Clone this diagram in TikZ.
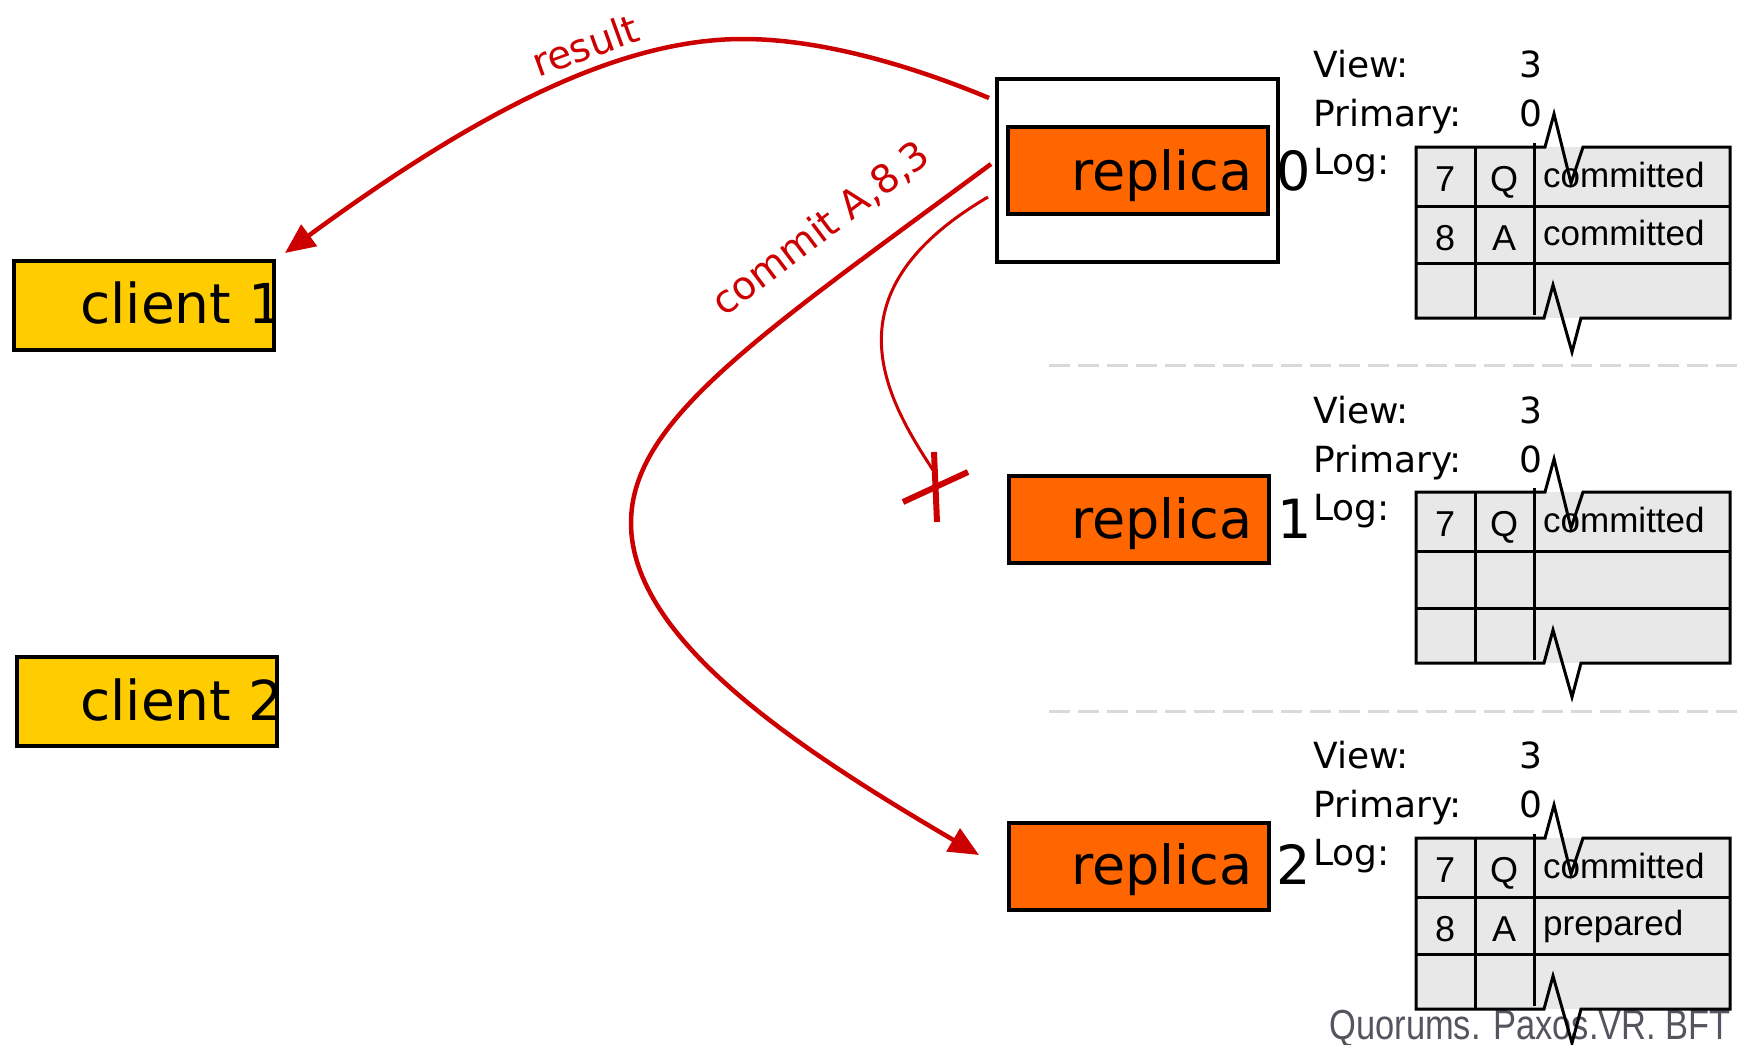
\documentclass[tikz,border=0pt]{standalone}
\usepackage{fontspec}
\setmainfont{DejaVu Sans}
\newfontfamily\tabfont{Liberation Sans}
\newfontfamily\footfont[FakeStretch=0.82]{Liberation Sans}
\usetikzlibrary{arrows.meta}
\definecolor{msgred}{HTML}{CC0000}
\definecolor{repor}{HTML}{FF6600}
\definecolor{cliy}{HTML}{FFCC00}
\definecolor{tabgray}{HTML}{E8E8E8}
\definecolor{sepgray}{HTML}{D9D9D9}
\definecolor{footgray}{HTML}{55555F}
\newcommand{\logtab}[1]{%
  \fill[tabgray] (1416,#1) rectangle (1730,#1+171);
  \draw[tabline] (1416,#1+59) -- (1730,#1+59);
  \draw[tabline] (1416,#1+116) -- (1730,#1+116);
  \draw[tabline] (1475,#1) -- (1475,#1+171);
  \draw[tabline] (1534,#1-4) -- (1534,#1+168);
}
\newcommand{\logframe}[1]{%
  \draw[tabline] (1545,#1) -- (1416,#1) -- (1416,#1+171) -- (1544,#1+171) -- (1553,#1+138) -- (1572,#1+205) -- (1581,#1+171) -- (1730,#1+171) -- (1730,#1) -- (1583,#1) -- (1571,#1+36) -- (1554,#1-33) -- cycle;
}
\begin{document}
\begin{tikzpicture}[x=1pt,y=-1pt,
  bigtxt/.style={font=\fontsize{54}{60}\selectfont, inner sep=0pt, anchor=base west},
  clitxt/.style={font=\fontsize{55}{60}\selectfont, inner sep=0pt, anchor=base west},
  lbl/.style={font=\fontsize{36}{40}\selectfont, inner sep=0pt, anchor=base west},
  tabtxt/.style={font=\tabfont\fontsize{36}{40}\selectfont, inner sep=0pt, anchor=base},
  tabtxtl/.style={font=\tabfont\fontsize{35}{40}\selectfont, inner sep=0pt, anchor=base west},
  tabline/.style={draw=black, line width=3pt},
  repbox/.style={draw=black, fill=repor, line width=4pt, minimum width=260pt, minimum height=87pt, inner sep=0pt},
  clibox/.style={draw=black, fill=cliy, line width=4pt, minimum width=260pt, minimum height=89pt, inner sep=0pt},
  msg/.style={draw=msgred, line width=4.5pt, -{Triangle[length=30pt,width=26pt]}},
  msgthin/.style={draw=msgred, line width=3pt},
  xmark/.style={draw=msgred, line width=6pt},
  msglbl/.style={font=\fontsize{39}{44}\selectfont, text=msgred, inner sep=0pt},
  sep/.style={draw=sepgray, line width=3pt, dash pattern=on 21pt off 8pt}
]
\useasboundingbox (0,0) rectangle (1744,1044);

% separators
\draw[sep] (1049,365) -- (1744,365);
\draw[sep] (1049,711) -- (1744,711);

% clients
\node[clibox] (c1) at (144,305) {};
\begin{scope}
  \clip ([shift={(2,-2)}]c1.south west) rectangle ([shift={(-2,2)}]c1.north east);
  \node[clitxt] (c1t) at (80,323) {client 1};
\end{scope}
\node[clibox] (c2) at (147,701) {};
\begin{scope}
  \clip ([shift={(2,-2)}]c2.south west) rectangle ([shift={(-2,2)}]c2.north east);
  \node[clitxt] (c2t) at (80,720) {client 2};
\end{scope}

% replicas
\node[draw=black, line width=3.5pt, minimum width=281pt, minimum height=183pt, inner sep=0pt] (r0o) at (1137.5,170.5) {};
\node[repbox] (r0) at (1138,170.5) {};
\node[bigtxt] (r0t) at (1071,190) {replica};
\node[bigtxt] (r0n) at (1276,190) {0};
\node[repbox] (r1) at (1139,519.5) {};
\node[bigtxt] (r1t) at (1071,538) {replica};
\node[bigtxt] (r1n) at (1277,538) {1};
\node[repbox] (r2) at (1139,866) {};
\node[bigtxt] (r2t) at (1071,884) {replica};
\node[bigtxt] (r2n) at (1276,884) {2};

% footer
\node[font=\footfont\fontsize{42}{48}\selectfont, text=footgray, anchor=base east, inner sep=0pt] (foot) at (1731,1039) {Quorums. Paxos.VR. BFT};

% state of replica 0
\node[lbl] (v0) at (1313,77) {View:};
\node[lbl] (v0v) at (1519,77) {3};
\node[lbl] (p0) at (1313,126) {Primary:};
\node[lbl] (p0v) at (1519,126) {0};
\node[lbl] (l0) at (1313,174) {Log:};
\logtab{147}
\node[tabtxt] (t0a) at (1445,191) {7};
\node[tabtxt] (t0b) at (1504,191) {Q};
\node[tabtxtl] (t0c) at (1543,187) {committed};
\node[tabtxt] (t0d) at (1445,250) {8};
\node[tabtxt] (t0e) at (1504,250) {A};
\node[tabtxtl] (t0f) at (1543,245) {committed};
\logframe{147}

% state of replica 1
\node[lbl] (v1) at (1313,423) {View:};
\node[lbl] (v1v) at (1519,423) {3};
\node[lbl] (p1) at (1313,472) {Primary:};
\node[lbl] (p1v) at (1519,472) {0};
\node[lbl] (l1) at (1313,520) {Log:};
\logtab{492}
\node[tabtxt] (t1a) at (1445,536) {7};
\node[tabtxt] (t1b) at (1504,536) {Q};
\node[tabtxtl] (t1c) at (1543,532) {committed};
\logframe{492}

% state of replica 2
\node[lbl] (v2) at (1313,768) {View:};
\node[lbl] (v2v) at (1519,768) {3};
\node[lbl] (p2) at (1313,817) {Primary:};
\node[lbl] (p2v) at (1519,817) {0};
\node[lbl] (l2) at (1313,865) {Log:};
\logtab{838}
\node[tabtxt] (t2a) at (1445,882) {7};
\node[tabtxt] (t2b) at (1504,882) {Q};
\node[tabtxtl] (t2c) at (1543,878) {committed};
\node[tabtxt] (t2d) at (1445,941) {8};
\node[tabtxt] (t2e) at (1504,941) {A};
\node[tabtxtl] (t2f) at (1543,935) {prepared};
\logframe{838}

% messages
\coordinate (resfrom) at (989,98);
\coordinate (resto) at (285,253);
\coordinate (comfrom) at (991,164);
\coordinate (comto) at (979,855);
\coordinate (lostfrom) at (988,197);
\coordinate (lostto) at (933,470);
\draw[msg] (resfrom) .. controls (910,65) and (820,39) .. (743,39) .. controls (620,39) and (480,110) .. (resto);
\draw[msg] (comfrom) .. controls (760,335) and (631,420) .. (631,523) .. controls (631,640) and (800,750) .. (comto);
\draw[msgthin] (lostfrom) .. controls (830,290) and (880,390) .. (lostto);
\coordinate (xa) at (934,452);
\coordinate (xb) at (937,522);
\coordinate (xc) at (903,502);
\coordinate (xd) at (968,472);
\draw[xmark] (xa) -- (xb);
\draw[xmark] (xc) -- (xd);
\node[msglbl, rotate=20] (reslbl) at (585,45) {result};
\node[msglbl, rotate=37] (comlbl) at (821,229) {commit A,8,3};
\end{tikzpicture}
\end{document}
